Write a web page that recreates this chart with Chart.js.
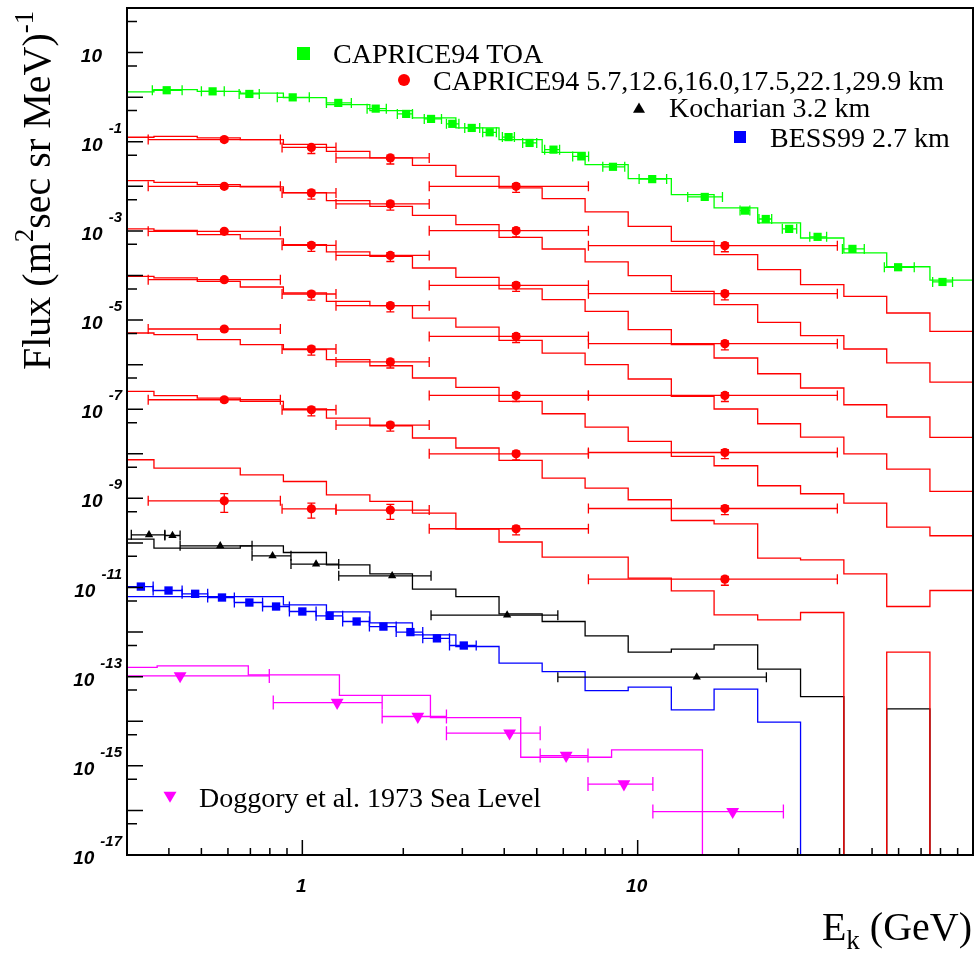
<!DOCTYPE html>
<html>
<head>
<meta charset="utf-8">
<title>Proton flux vs kinetic energy</title>
<script src="https://cdn.jsdelivr.net/npm/chart.js@4.4.1/dist/chart.umd.min.js"></script>
<style>
    html, body { margin: 0; padding: 0; background: #fff; }
    #wrap { width: 974px; height: 953px; }
</style>
</head>
<body>
<div id="wrap"><canvas id="flux-chart" width="974" height="953"></canvas></div>
<script>
// --- Axis ranges and ticks ---
const X_MIN = 0.3, X_MAX = 100;
const Y_MIN = 1e-17, Y_MAX = 1e2;
const xMajorTicks = [1, 10, 100];
const xMinorTicks = [0.4, 0.5, 0.6, 0.7, 0.8, 0.9, 2, 3, 4, 5, 6, 7, 8, 9, 20, 30, 40, 50, 60, 70, 80, 90];
const xTickLabels = ['1', '10'];
const xTickLabelValues = [1, 10];
const yMajorTicks = [1e2, 1e1, 1e0, 1e-1, 1e-2, 1e-3, 1e-4, 1e-5, 1e-6, 1e-7, 1e-8, 1e-9, 1e-10, 1e-11, 1e-12, 1e-13, 1e-14, 1e-15, 1e-16, 1e-17];
const yMinorTicks = [5e1, 5e0, 5e-1, 5e-2, 5e-3, 5e-4, 5e-5, 5e-6, 5e-7, 5e-8, 5e-9, 5e-10, 5e-11, 5e-12, 5e-13, 5e-14, 5e-15, 5e-16, 5e-17];
const yLabelValues = [1e1, 1e-1, 1e-3, 1e-5, 1e-7, 1e-9, 1e-11, 1e-13, 1e-15, 1e-17];
const yLabelExponents = ['', '-1', '-3', '-5', '-7', '-9', '-11', '-13', '-15', '-17'];

// --- Energy bins of the simulated spectra (GeV) ---
const binEdges = [0.269, 0.361, 0.486, 0.653, 0.878, 1.18, 1.59, 2.13, 2.87, 3.86, 5.19, 6.97, 9.37, 12.6, 16.9, 22.8, 30.6, 41.2, 55.3, 74.4, 100];
const seaLevelEdges = [0.197, 0.369, 0.69, 1.29, 2.41, 4.48, 8.36, 15.6, 29.2];

// --- Simulated spectra (histograms) ---
const toaModel = [1.31, 1.48, 1.35, 1.23, 0.977, 0.681, 0.499, 0.343, 0.204, 0.112, 0.0579, 0.0307, 0.0149, 0.0065, 0.00327, 0.00151, 6.93e-4, 3.2e-4, 1.57e-4, 7.83e-5];
const caprice1Model = [0.126, 0.132, 0.122, 0.112, 0.0875, 0.061, 0.0434, 0.0296, 0.0167, 0.00919, 0.00529, 0.00266, 0.00126, 5.83e-4, 2.93e-4, 1.35e-4, 6.22e-5, 3.40e-5, 1.44e-5, 5.57e-6];
const caprice2Model = [0.0134, 0.0123, 0.0109, 0.00968, 0.00721, 0.00477, 0.00355, 0.00223, 0.00138, 7.16e-4, 3.93e-4, 2.01e-4, 9.90e-5, 4.40e-5, 2.21e-5, 8.86e-6, 4.46e-6, 2.24e-6, 1.09e-6, 4.07e-7];
const caprice3Model = [1.11e-3, 1.03e-3, 8.23e-4, 6.59e-4, 4.91e-4, 3.37e-4, 2.68e-4, 1.47e-4, 9.06e-5, 4.98e-5, 2.86e-5, 1.56e-5, 6.08e-6, 2.80e-6, 1.41e-6, 6.25e-7, 2.99e-7, 1.26e-7, 6.68e-8, 2.33e-8];
const caprice4Model = [9.54e-5, 8.79e-5, 7.37e-5, 5.52e-5, 4.05e-5, 2.62e-5, 2.10e-5, 1.11e-5, 6.91e-6, 3.49e-6, 1.82e-6, 9.96e-7, 4.76e-7, 1.94e-7, 1.01e-7, 4.72e-8, 2.37e-8, 1.0e-8, 4.54e-9, 1.43e-9];
const caprice5Model = [5.12e-6, 4.69e-6, 3.62e-6, 2.80e-6, 2.16e-6, 1.29e-6, 9.45e-7, 5.01e-7, 3.08e-7, 1.50e-7, 7.92e-8, 3.98e-8, 1.89e-8, 8.71e-9, 5.39e-9, 1.92e-9, 1.27e-9, 7.84e-10, 2.27e-10, 1.45e-10];
const caprice6Model = [2.51e-7, 2.01e-7, 1.78e-7, 1.50e-7, 1.01e-7, 6.34e-8, 4.26e-8, 2.26e-8, 1.35e-8, 7.09e-9, 2.85e-9, 1.70e-9, 9.30e-10, 3.19e-10, 2.69e-10, 4.57e-11, 4.19e-11, 2.03e-11, 3.75e-12, 8.57e-12];
const caprice7Model = [7.35e-9, 4.78e-9, 4.78e-9, 3.38e-9, 2.39e-9, 1.20e-9, 8.52e-10, 4.68e-10, 2.05e-10, 1.05e-10, 4.81e-11, 4.81e-11, 1.63e-11, 8.43e-12, 2.44e-12, 1.88e-12, 2.75e-12, 0, 3.55e-13, 0];
const kocharianModel = [1.22e-10, 7.66e-11, 7.66e-11, 8.63e-11, 6.11e-11, 3.23e-11, 2.03e-11, 9.21e-12, 6.28e-12, 2.57e-12, 1.73e-12, 8.24e-13, 3.55e-13, 4.15e-13, 5.18e-13, 1.48e-13, 3.58e-14, 0, 1.90e-14, 0];
const bessModel = [6.28e-12, 6.28e-12, 6.28e-12, 6.28e-12, 4.09e-12, 2.85e-12, 1.61e-12, 8.69e-13, 4.75e-13, 2.01e-13, 1.30e-13, 4.89e-14, 5.83e-14, 1.80e-14, 5.25e-14, 9.55e-15, 0, 0, 0, 0];
const seaLevelModel = [1.62e-13, 1.75e-13, 1.10e-13, 3.8e-14, 1.21e-14, 1.56e-15, 2.29e-15, 0];

// --- CAPRICE94 TOA ---
const toaE = [0.394, 0.540, 0.695, 0.936, 1.28, 1.655, 2.04, 2.42, 2.80, 3.20, 3.62, 4.12, 4.76, 5.61, 6.79, 8.44, 11.05, 15.85, 20.9, 24.1, 28.3, 34.4, 43.7, 59.8, 81.1];
const toaELo = [0.357, 0.50, 0.648, 0.842, 1.18, 1.56, 1.92, 2.31, 2.69, 3.05, 3.45, 3.95, 4.54, 5.28, 6.40, 7.87, 10.1, 14.1, 20.2, 23.0, 27.0, 32.6, 40.8, 54.4, 75.8];
const toaEHi = [0.438, 0.585, 0.744, 1.049, 1.40, 1.78, 2.13, 2.60, 2.93, 3.38, 3.79, 4.29, 5.0, 5.85, 7.14, 9.15, 12.2, 17.9, 21.6, 25.1, 29.8, 36.6, 47.4, 66.8, 86.9];
const toaFlux = [1.43, 1.35, 1.18, 0.99, 0.743, 0.553, 0.421, 0.325, 0.252, 0.204, 0.163, 0.127, 0.094, 0.0665, 0.0469, 0.0274, 0.0145, 0.00578, 0.00285, 0.00185, 0.00111, 7.35e-4, 3.95e-4, 1.53e-4, 7.15e-5];

// --- CAPRICE94 at altitude (scaled) ---
const capriceE = [0.585, 1.064, 1.83, 4.34, 18.2];
const capriceELo = [0.347, 0.870, 1.26, 2.39, 7.13];
const capriceEHi = [0.860, 1.26, 2.39, 7.13, 39.4];
const caprice1Flux = [0.112, 0.0746, 0.0434, 0.0100, 4.66e-4];
const caprice2Flux = [0.0100, 0.0071, 0.00402, 1.01e-3, 3.90e-5];
const caprice3Flux = [9.76e-4, 4.74e-4, 2.82e-4, 6.0e-5, 2.95e-6];
const caprice4Flux = [8.05e-5, 3.84e-5, 2.10e-5, 4.30e-6, 2.04e-7];
const caprice5Flux = [6.30e-6, 2.24e-6, 1.15e-6, 2.04e-7, 1.07e-8];
const caprice6Flux = [1.63e-7, 9.73e-8, 4.41e-8, 1.0e-8, 5.93e-10];
const caprice7Flux = [8.83e-10, 5.84e-10, 5.46e-10, 2.08e-10, 1.54e-11];
// relative flux errors (lower, upper)
const capriceErrLo = [0.1, 0.27, 0.27, 0.27, 0.27];
const capriceErrHi = [0.08, 0.15, 0.15, 0.15, 0.15];
const caprice7ErrLo = [0.45, 0.38, 0.38, 0.27, 0.27];
const caprice7ErrHi = [0.45, 0.34, 0.34, 0.15, 0.15];

// --- Kocharian 3.2 km ---
const kocharianE = [0.349, 0.410, 0.569, 0.815, 1.099, 1.853, 4.08, 15.0];
const kocharianELo = [0.309, 0.389, 0.432, 0.708, 0.925, 1.284, 2.42, 5.78];
const kocharianEHi = [0.389, 0.432, 0.708, 0.925, 1.284, 2.42, 5.78, 24.2];
const kocharianFlux = [1.52e-10, 1.47e-10, 8.6e-11, 5.15e-11, 3.35e-11, 1.83e-11, 2.40e-12, 9.77e-14];

// --- BESS99 2.7 km ---
const bessE = [0.330, 0.399, 0.479, 0.576, 0.695, 0.835, 1.00, 1.206, 1.452, 1.745, 2.10, 2.52, 3.03];
const bessELo = [0.298, 0.359, 0.438, 0.522, 0.627, 0.761, 0.915, 1.099, 1.319, 1.585, 1.905, 2.286, 2.747];
const bessEHi = [0.359, 0.438, 0.522, 0.627, 0.761, 0.915, 1.099, 1.319, 1.585, 1.905, 2.286, 2.747, 3.30];
const bessFlux = [1.05e-11, 8.57e-12, 7.23e-12, 5.97e-12, 4.61e-12, 3.75e-12, 2.90e-12, 2.32e-12, 1.73e-12, 1.33e-12, 1.0e-12, 7.24e-13, 5.0e-13];

// --- Doggory et al. 1973 sea level ---
const seaLevelE = [0.432, 1.27, 2.21, 4.15, 6.12, 9.10, 19.2];
const seaLevelELo = [0.28, 0.819, 1.73, 2.69, 5.12, 7.11, 11.1];
const seaLevelEHi = [0.797, 1.73, 2.69, 5.12, 7.11, 11.1, 27.2];
const seaLevelFlux = [1.04e-13, 2.63e-14, 1.28e-14, 5.4e-15, 1.70e-15, 3.9e-16, 9.4e-17];

// --- Colours ---
const GREEN = '#00ff00', RED = '#ff0000', BLACK = '#000000', BLUE = '#0000ff', MAGENTA = '#ff00ff';

// --- Dataset builders ---
const histogram = (edges, values, color) => {
    const data = [];
    values.forEach((v, i) => {
        const yv = v > 0 ? v : Y_MIN;
        data.push({ x: edges[i], y: yv }, { x: edges[i + 1], y: yv });
    });
    return {
        data, showLine: true, borderColor: color, borderWidth: 1.3,
        pointRadius: 0, fill: false, tension: 0, order: 2
    };
};

const points = (e, flux, lo, hi, color, opts) => ({
    data: e.map((x, i) => ({ x, y: flux[i] })),
    eLo: lo, eHi: hi,
    backgroundColor: color, borderColor: color, pointBorderWidth: 0,
    pointHoverRadius: 0, order: 1,
    ...opts
});

const redPoint = { pointStyle: 'circle', pointRadius: 4.6, cap: 5 };
const redErr = { errLo: capriceErrLo, errHi: capriceErrHi };

const datasets = [
    histogram(binEdges, toaModel, GREEN),
    histogram(binEdges, caprice1Model, RED),
    histogram(binEdges, caprice2Model, RED),
    histogram(binEdges, caprice3Model, RED),
    histogram(binEdges, caprice4Model, RED),
    histogram(binEdges, caprice5Model, RED),
    histogram(binEdges, caprice6Model, RED),
    histogram(binEdges, caprice7Model, RED),
    histogram(binEdges, kocharianModel, BLACK),
    histogram(binEdges, bessModel, BLUE),
    histogram(seaLevelEdges, seaLevelModel, MAGENTA),
    points(toaE, toaFlux, toaELo, toaEHi, GREEN, { pointStyle: 'rect', pointRadius: 5.8, cap: 5 }),
    points(capriceE, caprice1Flux, capriceELo, capriceEHi, RED, { ...redPoint, ...redErr }),
    points(capriceE, caprice2Flux, capriceELo, capriceEHi, RED, { ...redPoint, ...redErr }),
    points(capriceE, caprice3Flux, capriceELo, capriceEHi, RED, { ...redPoint, ...redErr }),
    points(capriceE, caprice4Flux, capriceELo, capriceEHi, RED, { ...redPoint, ...redErr }),
    points(capriceE, caprice5Flux, capriceELo, capriceEHi, RED, { ...redPoint, ...redErr }),
    points(capriceE, caprice6Flux, capriceELo, capriceEHi, RED, { ...redPoint, ...redErr }),
    points(capriceE, caprice7Flux, capriceELo, capriceEHi, RED, { ...redPoint, errLo: caprice7ErrLo, errHi: caprice7ErrHi }),
    points(kocharianE, kocharianFlux, kocharianELo, kocharianEHi, BLACK, { pointStyle: 'triangle', pointRadius: 4.8, cap: 5 }),
    points(bessE, bessFlux, bessELo, bessEHi, BLUE, { pointStyle: 'rect', pointRadius: 5.9, cap: 5 }),
    points(seaLevelE, seaLevelFlux, seaLevelELo, seaLevelEHi, MAGENTA, { pointStyle: 'triangle', rotation: 180, pointRadius: 7.4, cap: 7 })
];

// --- Error bars, drawn just before each marker set ---
const errorBarPlugin = {
    id: 'errorBars',
    beforeDatasetDraw(chart, args) {
        const ds = chart.data.datasets[args.index];
        if (!ds.eLo) return;
        const { ctx, chartArea: a, scales: { x, y } } = chart;
        ctx.save();
        ctx.beginPath();
        ctx.rect(a.left, a.top, a.right - a.left, a.bottom - a.top);
        ctx.clip();
        ctx.strokeStyle = ds.backgroundColor;
        ctx.lineWidth = 1.3;
        ds.data.forEach((p, i) => {
            const px = x.getPixelForValue(p.x);
            const py = y.getPixelForValue(p.y);
            const x0 = x.getPixelForValue(ds.eLo[i]);
            const x1 = x.getPixelForValue(ds.eHi[i]);
            ctx.beginPath();
            ctx.moveTo(x0, py); ctx.lineTo(x1, py);
            ctx.moveTo(x0, py - ds.cap); ctx.lineTo(x0, py + ds.cap);
            ctx.moveTo(x1, py - ds.cap); ctx.lineTo(x1, py + ds.cap);
            if (ds.errLo) {
                const y0 = y.getPixelForValue(p.y * (1 + ds.errHi[i]));
                const y1 = y.getPixelForValue(p.y * (1 - ds.errLo[i]));
                ctx.moveTo(px, y0); ctx.lineTo(px, y1);
                ctx.moveTo(px - 4, y0); ctx.lineTo(px + 4, y0);
                ctx.moveTo(px - 4, y1); ctx.lineTo(px + 4, y1);
            }
            ctx.stroke();
        });
        ctx.restore();
    }
};

// --- Frame, ticks, labels, titles and legend ---
const SERIF = '"Liberation Serif", "Times New Roman", serif';
const TICK_FONT = 'bold italic 19px "Liberation Sans", Arial, sans-serif';
const EXP_FONT = 'bold italic 15px "Liberation Sans", Arial, sans-serif';

const drawMarker = (ctx, style, cx, cy, size, color) => {
    ctx.fillStyle = color;
    ctx.beginPath();
    if (style === 'rect') {
        ctx.rect(cx - size / 2, cy - size / 2, size, size);
    } else if (style === 'circle') {
        ctx.arc(cx, cy, size / 2, 0, Math.PI * 2);
    } else if (style === 'up') {
        ctx.moveTo(cx, cy - size * 0.45);
        ctx.lineTo(cx + size / 2, cy + size * 0.4);
        ctx.lineTo(cx - size / 2, cy + size * 0.4);
    } else {
        ctx.moveTo(cx, cy + size * 0.45);
        ctx.lineTo(cx + size / 2, cy - size * 0.4);
        ctx.lineTo(cx - size / 2, cy - size * 0.4);
    }
    ctx.closePath();
    ctx.fill();
};

// Draws text made of [string, font, baselineShift] pieces, left to right
const drawPieces = (ctx, pieces, x0, y0) => {
    let x = x0;
    pieces.forEach(([t, font, dy]) => {
        ctx.font = font;
        ctx.fillText(t, x, y0 + dy);
        x += ctx.measureText(t).width;
    });
    return x - x0;
};

const axesPlugin = {
    id: 'rootAxes',
    afterDraw(chart) {
        const { ctx, chartArea: a, scales: { x, y } } = chart;
        ctx.save();
        ctx.strokeStyle = BLACK;
        ctx.fillStyle = BLACK;

        // ticks
        ctx.lineWidth = 1.5;
        ctx.beginPath();
        yMajorTicks.forEach(v => { const py = y.getPixelForValue(v); ctx.moveTo(a.left, py); ctx.lineTo(a.left + 16, py); });
        yMinorTicks.forEach(v => { const py = y.getPixelForValue(v); ctx.moveTo(a.left, py); ctx.lineTo(a.left + 10, py); });
        xMajorTicks.forEach(v => { const px = x.getPixelForValue(v); ctx.moveTo(px, a.bottom); ctx.lineTo(px, a.bottom - 15); });
        xMinorTicks.forEach(v => { const px = x.getPixelForValue(v); ctx.moveTo(px, a.bottom); ctx.lineTo(px, a.bottom - 7); });
        ctx.stroke();

        // frame
        ctx.lineWidth = 2;
        ctx.strokeRect(a.left, a.top, a.right - a.left, a.bottom - a.top);

        // y tick labels: 10 with exponent
        ctx.textBaseline = 'alphabetic';
        yLabelValues.forEach((v, i) => {
            const py = y.getPixelForValue(v);
            const exp = yLabelExponents[i];
            ctx.textAlign = 'right';
            if (!exp) {
                ctx.font = TICK_FONT;
                ctx.fillText('10', 102, py + 9);
                return;
            }
            ctx.font = EXP_FONT;
            ctx.fillText(exp, 122, py - 9);
            const w = ctx.measureText(exp).width;
            ctx.font = TICK_FONT;
            ctx.fillText('10', 122 - w - 6, py + 9);
        });

        // x tick labels
        ctx.font = TICK_FONT;
        ctx.textAlign = 'center';
        xTickLabelValues.forEach((v, i) => {
            ctx.fillText(xTickLabels[i], x.getPixelForValue(v) - 1, 892);
        });

        // axis titles
        ctx.textAlign = 'left';
        const big = '40px ' + SERIF, sup = '27px ' + SERIF;
        ctx.save();
        ctx.translate(50, 370);
        ctx.rotate(-Math.PI / 2);
        drawPieces(ctx, [['Flux (m', big, 0], ['2', sup, -17], ['sec sr MeV)', big, 0], ['-1', sup, -17]], 0, 0);
        ctx.restore();

        ctx.font = big;
        const wE = ctx.measureText('E').width;
        const wRest = ctx.measureText(' (GeV)').width;
        ctx.font = sup;
        const wK = ctx.measureText('k').width;
        drawPieces(ctx, [['E', big, 0], ['k', sup, 9], [' (GeV)', big, 0]], 972 - wE - wK - wRest, 940);

        // legend
        const legendFont = '28px ' + SERIF;
        ctx.font = legendFont;
        ctx.textAlign = 'left';
        drawMarker(ctx, 'rect', 303.5, 53.5, 13, GREEN);
        ctx.fillStyle = BLACK; ctx.fillText('CAPRICE94 TOA', 333, 63);
        drawMarker(ctx, 'circle', 404, 80, 12, RED);
        ctx.fillStyle = BLACK; ctx.fillText('CAPRICE94 5.7,12.6,16.0,17.5,22.1,29.9 km', 433, 90);
        drawMarker(ctx, 'up', 639, 108, 12, BLACK);
        ctx.fillStyle = BLACK; ctx.fillText('Kocharian 3.2 km', 669, 117);
        drawMarker(ctx, 'rect', 740, 137, 12, BLUE);
        ctx.fillStyle = BLACK; ctx.fillText('BESS99 2.7 km', 770, 147);
        drawMarker(ctx, 'down', 170, 797, 13, MAGENTA);
        ctx.fillStyle = BLACK; ctx.fillText('Doggory et al. 1973 Sea Level', 199, 807);

        ctx.restore();
    }
};

// --- Chart ---
new Chart(document.getElementById('flux-chart').getContext('2d'), {
    type: 'scatter',
    data: { datasets },
    options: {
        responsive: false,
        maintainAspectRatio: false,
        devicePixelRatio: 1,
        animation: false,
        events: [],
        layout: { autoPadding: false, padding: { left: 127, right: 1, top: 8, bottom: 98 } },
        scales: {
            x: { type: 'logarithmic', min: X_MIN, max: X_MAX, display: false },
            y: { type: 'logarithmic', min: Y_MIN, max: Y_MAX, display: false }
        },
        plugins: {
            legend: { display: false },
            tooltip: { enabled: false }
        }
    },
    plugins: [errorBarPlugin, axesPlugin]
});
</script>
</body>
</html>
